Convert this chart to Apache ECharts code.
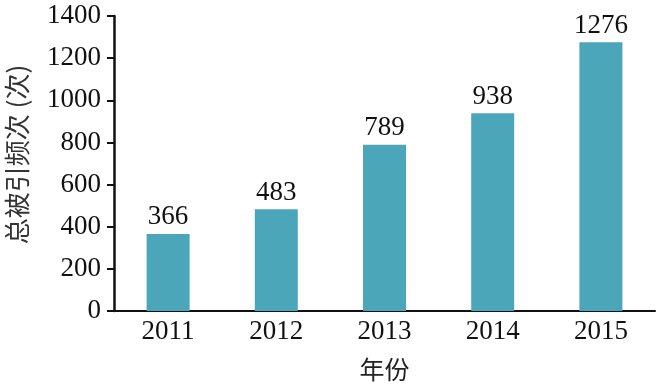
<!DOCTYPE html>
<html>
<head>
<meta charset="utf-8">
<script src="https://cdn.jsdelivr.net/npm/echarts@6/dist/echarts.min.js"></script>
<style>html,body{margin:0;padding:0;background:#fff;}#c{width:664px;height:385px;}</style>
</head>
<body>
<div id="c"></div>
<script>
var categories = ['2011', '2012', '2013', '2014', '2015'];
var values = [366, 483, 789, 938, 1276];
var yTicks = [0, 200, 400, 600, 800, 1000, 1200, 1400];

var serif = 'Liberation Serif';
var cjk = 'Noto Sans CJK SC';
var ink = '#111';
var chart = echarts.init(document.getElementById('c'));
chart.setOption({
  animation: false,
  grid: { left: 114, right: 9, top: 16, bottom: 74, containLabel: false, outerBoundsMode: 'none' },
  xAxis: {
    type: 'category',
    data: categories,
    name: '年份',
    nameLocation: 'middle',
    nameGap: 46,
    nameTextStyle: { fontFamily: cjk, fontSize: 25, color: '#222' },
    axisLine: { lineStyle: { color: ink, width: 2 } },
    axisTick: { show: false },
    axisLabel: { fontFamily: serif, fontSize: 27, color: ink, margin: 7 }
  },
  yAxis: {
    type: 'value',
    min: yTicks[0],
    max: yTicks[yTicks.length - 1],
    interval: 200,
    name: '总被引频次 (次)',
    nameLocation: 'middle',
    nameGap: 84,
    nameRotate: 90,
    nameTextStyle: { fontFamily: cjk, fontSize: 26, color: '#333', padding: [0, 0, 0, 18] },
    axisLine: { show: true, lineStyle: { color: ink, width: 2.5 } },
    axisTick: { show: true, length: 7, lineStyle: { color: ink, width: 2 } },
    axisLabel: { fontFamily: serif, fontSize: 27, color: ink, margin: 13, formatter: function (v) { return String(v); } },
    splitLine: { show: false }
  },
  series: [{
    type: 'bar',
    data: values,
    barWidth: 43,
    itemStyle: { color: '#4BA6BA' },
    label: { show: true, position: 'top', distance: 3, fontFamily: serif, fontSize: 27, color: ink }
  }]
});
</script>
</body>
</html>
